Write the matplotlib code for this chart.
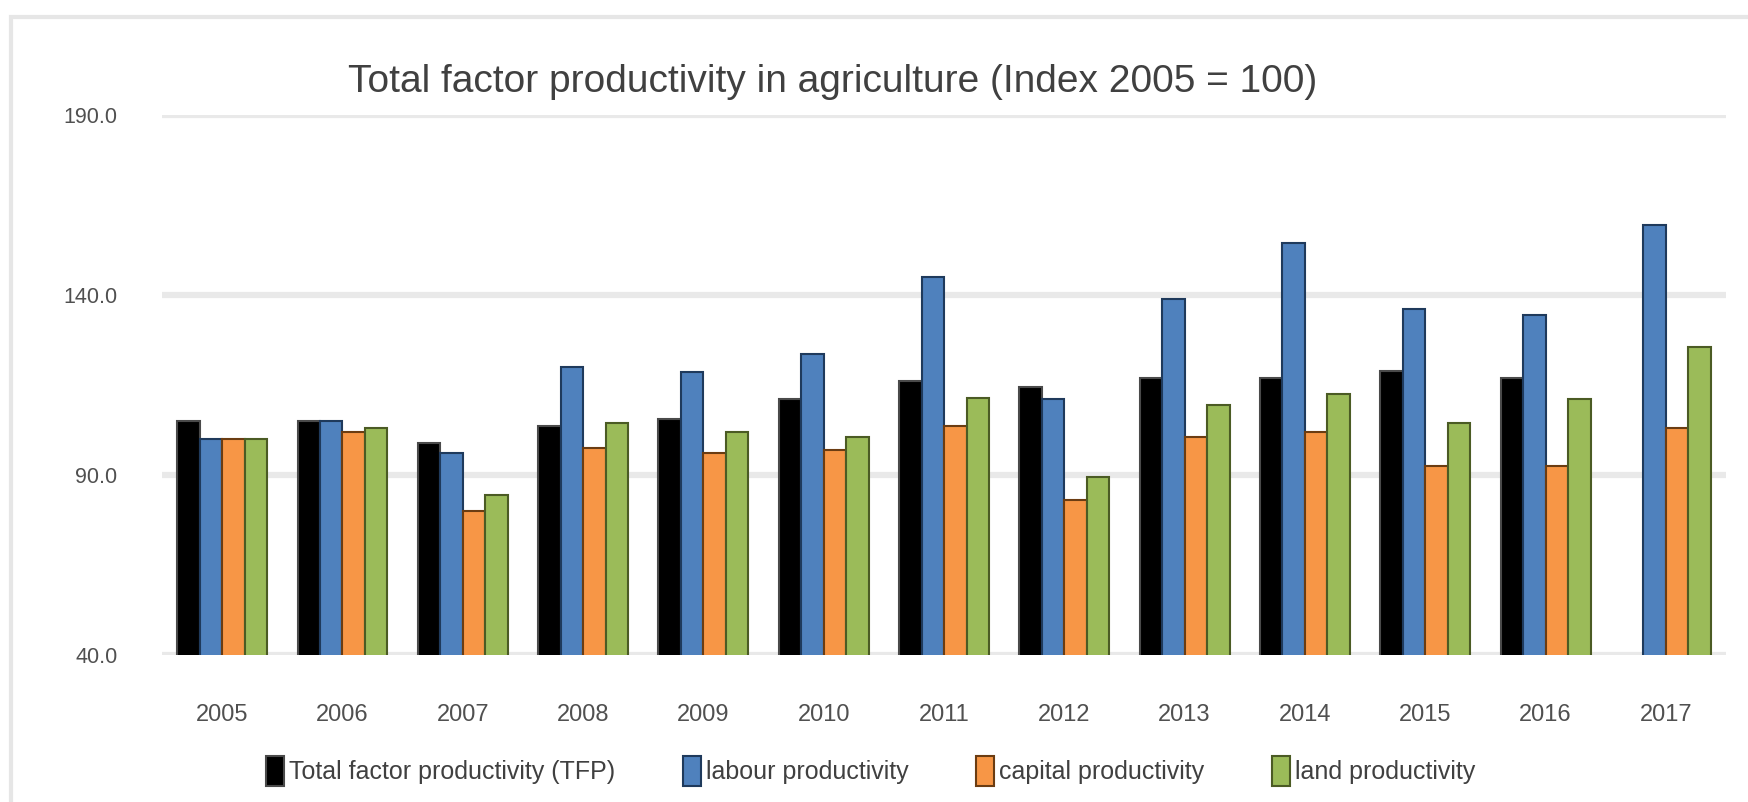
import numpy as np
import matplotlib

matplotlib.use("Agg")
import matplotlib.pyplot as plt
from matplotlib.patches import Rectangle

plt.rcParams["font.family"] = ["Liberation Sans", "DejaVu Sans"]

# values (index 2005 = 100)
years = ["2005", "2006", "2007", "2008", "2009", "2010", "2011",
         "2012", "2013", "2014", "2015", "2016", "2017"]
tfp = [105, 105, 99, 103.5, 105.5, 111, 116, 114.5, 117, 117, 119, 117, np.nan]
labour = [100, 105, 96, 120, 118.5, 123.5, 145, 111, 139, 154.5, 136, 134.5, 159.5]
capital = [100, 102, 80, 97.5, 96, 97, 103.5, 83, 100.5, 102, 92.5, 92.5, 103]
land = [100, 103, 84.5, 104.5, 102, 100.5, 111.5, 89.5, 109.5, 112.5, 104.5, 111, 125.5]

series_names = ["Total factor productivity (TFP)", "labour productivity",
                "capital productivity", "land productivity"]
y_ticks = [40, 90, 140, 190]

fills = ["#000000", "#4F81BD", "#F79646", "#9BBB59"]
edges = ["#4A4A4A", "#1F3A5C", "#6B3C12", "#4B5B24"]

fig = plt.figure(figsize=(17.48, 8.02), dpi=100)
ax = fig.add_axes([0.0927, 0.1833, 0.8947, 0.6733])

x = np.arange(len(years))
w = 0.187
for i, (vals, fc, ec, name) in enumerate(zip([tfp, labour, capital, land], fills, edges, series_names)):
    ax.bar(x + (i - 1.5) * w, vals, width=w, color=fc, edgecolor=ec,
           linewidth=1.5, label=name, zorder=2)

ax.set_xlim(-0.5, len(years) - 0.5)
ax.set_ylim(40, 190)
ax.set_yticks(y_ticks)
ax.set_yticklabels([f"{v:.1f}" for v in y_ticks])
ax.set_xticks(x)
ax.set_xticklabels(years)
ax.tick_params(axis="y", length=0, pad=32, labelsize=15.5, labelcolor="#505050")
ax.tick_params(axis="x", length=0, pad=35, labelsize=17, labelcolor="#505050")
ax.grid(axis="y", color="#E9E9E9", linewidth=4.5, zorder=0)
ax.set_axisbelow(True)
for s in ax.spines.values():
    s.set_visible(False)

fig.text(0.4765, 1 - 92 / 802, "Total factor productivity in agriculture (Index 2005 = 100)",
         ha="center", va="baseline", fontsize=28, color="#404040")

fig.legend(loc="center", bbox_to_anchor=(0.498, 0.0387), ncol=4, frameon=False,
           fontsize=18, labelcolor="#404040", handlelength=0.72, handleheight=1.5,
           handletextpad=0.2, columnspacing=2.7)

# thin grey chart frame
fig.add_artist(Rectangle((11 / 1748, -0.05), 1.1, 0.05 + (802 - 17) / 802,
                         transform=fig.transFigure, fill=False,
                         edgecolor="#E6E6E6", linewidth=3))

fig.savefig("out.png", dpi=100)
